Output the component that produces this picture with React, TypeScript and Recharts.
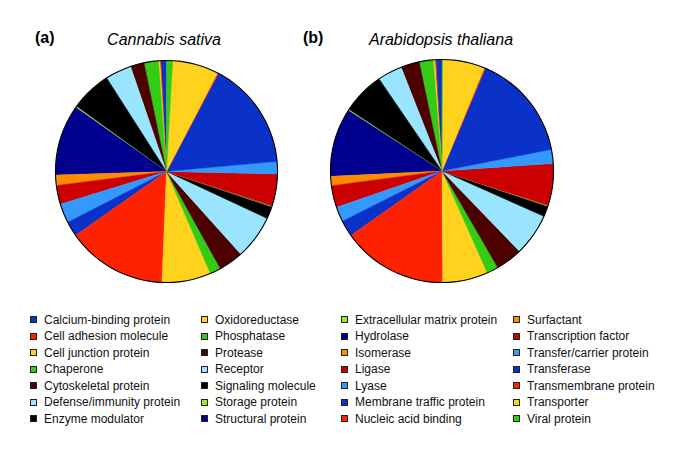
import React from "react";
import { PieChart, Pie, Cell } from "recharts";

// protein classes, alphabetical (this is also the slice order, counter-clockwise from 12 o'clock)
const categories = [
  "Calcium-binding protein",
  "Cell adhesion molecule",
  "Cell junction protein",
  "Chaperone",
  "Cytoskeletal protein",
  "Defense/immunity protein",
  "Enzyme modulator",
  "Extracellular matrix protein",
  "Hydrolase",
  "Isomerase",
  "Ligase",
  "Lyase",
  "Membrane traffic protein",
  "Nucleic acid binding",
  "Oxidoreductase",
  "Phosphatase",
  "Protease",
  "Receptor",
  "Signaling molecule",
  "Storage protein",
  "Structural protein",
  "Surfactant",
  "Transcription factor",
  "Transfer/carrier protein",
  "Transferase",
  "Transmembrane protein",
  "Transporter",
  "Viral protein",
];

const colors = [
  "#0a32c8", "#ff2200", "#ffd21e", "#33cc14", "#4d0000", "#99e5ff", "#000000",
  "#99ee22", "#00008f", "#ff8c00", "#cc0000", "#3399ff", "#0a32c8", "#ff2200",
  "#ffd21e", "#33cc14", "#4d0000", "#99e5ff", "#000000", "#99ee22", "#00008f",
  "#ff8c00", "#cc0000", "#3399ff", "#0a32c8", "#ff2200", "#ffd21e", "#33cc14",
];

// share of proteins (%) per class
const cannabisShare = [
  0.8, 0.15, 0.2, 2.1, 2.0, 3.8, 6.0, 0.15, 10.3, 1.5, 2.75, 2.8, 2.2, 14.6,
  7.1, 1.6, 3.6, 6.4, 1.8, 0.1, 0.05, 0.05, 4.6, 1.8, 15.8, 0.15, 6.7, 0.9,
];

const arabidopsisShare = [
  0.86, 0.17, 0.22, 2.03, 2.69, 3.56, 6.19, 0.14, 9.89, 1.33, 3.17, 2.17, 2.36, 15.28,
  6.56, 1.67, 3.89, 6.11, 1.53, 0.11, 0.03, 0.03, 6.03, 2.03, 15.53, 0.17, 6.11, 0.08,
];

// legend columns as printed in the figure
const legendColumns = [
  categories.slice(0, 7),
  categories.slice(14, 21),
  categories.slice(7, 14),
  categories.slice(21, 28),
];

const FONT = "'Liberation Sans', Arial, Helvetica, sans-serif";

const toData = (values: number[]) =>
  categories.map((name, i) => ({ name, value: values[i], color: colors[i] }));

const cannabisData = toData(cannabisShare);
const arabidopsisData = toData(arabidopsisShare);
const outline = [{ name: "outline", value: 1 }];

const pies = [
  { key: "a", data: cannabisData, cx: 166.5, cy: 171.5, r: 111 },
  { key: "b", data: arabidopsisData, cx: 442, cy: 171, r: 111.5 },
];

const colX = [30, 201, 341, 513];

export default function App() {
  return (
    <div style={{ position: "absolute", left: 0, top: 0, width: 685, height: 466, background: "#fff", fontFamily: FONT }}>
      <PieChart width={685} height={300} margin={{ top: 0, right: 0, bottom: 0, left: 0 }}>
        {pies.map((p) => (
          <Pie
            key={p.key}
            data={p.data}
            dataKey="value"
            nameKey="name"
            cx={p.cx}
            cy={p.cy}
            outerRadius={p.r}
            startAngle={90}
            endAngle={450}
            stroke="none"
            isAnimationActive={false}
          >
            {p.data.map((d, i) => (
              <Cell key={`c-${p.key}-${i}`} fill={d.color} stroke={d.color} strokeWidth={0.4} />
            ))}
          </Pie>
        ))}
        {pies.map((p) => (
          <Pie
            key={`o-${p.key}`}
            data={outline}
            dataKey="value"
            cx={p.cx}
            cy={p.cy}
            innerRadius={p.r - 0.5}
            outerRadius={p.r + 0.6}
            startAngle={90}
            endAngle={450}
            fill="#000"
            stroke="none"
            isAnimationActive={false}
          />
        ))}
      </PieChart>

      <div style={{ position: "absolute", left: 35, top: 29, fontSize: 16, fontWeight: "bold", lineHeight: "18px" }}>(a)</div>
      <div style={{ position: "absolute", left: 64, width: 200, top: 31, fontSize: 16, fontStyle: "italic", lineHeight: "18px", textAlign: "center" }}>
        Cannabis sativa
      </div>
      <div style={{ position: "absolute", left: 303, top: 29, fontSize: 16, fontWeight: "bold", lineHeight: "18px" }}>(b)</div>
      <div style={{ position: "absolute", left: 341, width: 200, top: 31, fontSize: 16, fontStyle: "italic", lineHeight: "18px", textAlign: "center" }}>
        Arabidopsis thaliana
      </div>

      {legendColumns.map((col, ci) => (
        <div key={ci} style={{ position: "absolute", left: colX[ci], top: 311.5 }}>
          {col.map((name) => (
            <div key={name} style={{ display: "flex", alignItems: "center", height: 16.5, fontSize: 12, color: "#111", whiteSpace: "nowrap" }}>
              <span
                style={{
                  display: "inline-block",
                  width: 5,
                  height: 5,
                  background: colors[categories.indexOf(name)],
                  border: "1px solid #222",
                  marginRight: 7,
                }}
              />
              {name}
            </div>
          ))}
        </div>
      ))}
    </div>
  );
}
